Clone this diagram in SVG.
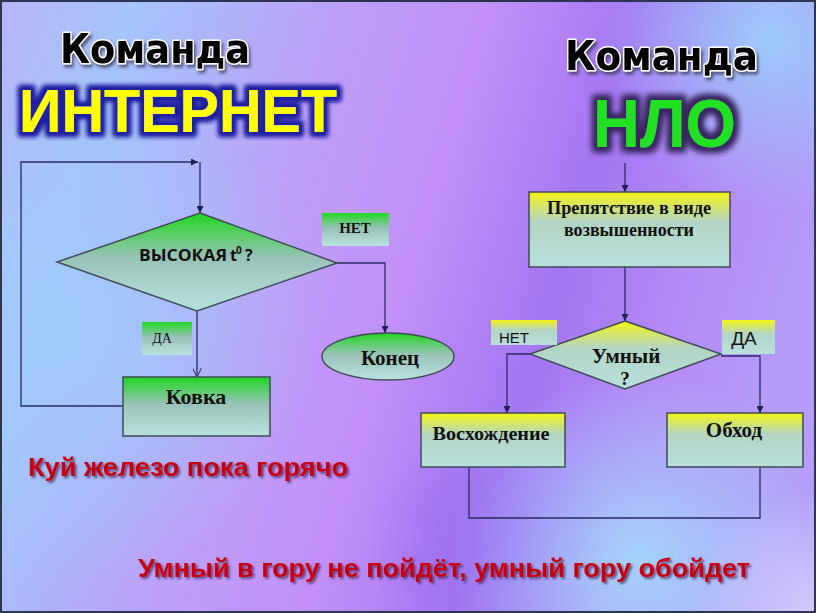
<svg xmlns="http://www.w3.org/2000/svg" width="816" height="613" viewBox="0 0 816 613">
<defs>
  <linearGradient id="bg" x1="0" y1="0" x2="816" y2="250" gradientUnits="userSpaceOnUse">
    <stop offset="0" stop-color="#b8b4f6"/>
    <stop offset="0.15" stop-color="#a4c4fa"/>
    <stop offset="0.38" stop-color="#bca0f8"/>
    <stop offset="0.55" stop-color="#c290f8"/>
    <stop offset="0.72" stop-color="#a476f2"/>
    <stop offset="0.88" stop-color="#b48cf6"/>
    <stop offset="1" stop-color="#b49cf8"/>
  </linearGradient>
  <radialGradient id="blueTR" cx="770" cy="40" r="170" gradientUnits="userSpaceOnUse">
    <stop offset="0" stop-color="#9ccafa" stop-opacity="1"/>
    <stop offset="1" stop-color="#9ccafa" stop-opacity="0"/>
  </radialGradient>
  <radialGradient id="blueBR" cx="640" cy="560" r="190" gradientUnits="userSpaceOnUse">
    <stop offset="0" stop-color="#a4d2fa" stop-opacity="1"/>
    <stop offset="1" stop-color="#a4d2fa" stop-opacity="0"/>
  </radialGradient>
  <radialGradient id="blueL" cx="60" cy="330" r="260" gradientUnits="userSpaceOnUse">
    <stop offset="0" stop-color="#a0cafa" stop-opacity="1"/>
    <stop offset="1" stop-color="#a0cafa" stop-opacity="0"/>
  </radialGradient>
  <radialGradient id="purpleB" cx="490" cy="540" r="120" gradientUnits="userSpaceOnUse">
    <stop offset="0" stop-color="#9a6cf0" stop-opacity="0.9"/>
    <stop offset="1" stop-color="#9a6cf0" stop-opacity="0"/>
  </radialGradient>
  <radialGradient id="lavBR" cx="810" cy="610" r="120" gradientUnits="userSpaceOnUse">
    <stop offset="0" stop-color="#d2c8fa" stop-opacity="1"/>
    <stop offset="1" stop-color="#d2c8fa" stop-opacity="0"/>
  </radialGradient>
  <linearGradient id="gGreen" x1="0" y1="0" x2="0" y2="1">
    <stop offset="0" stop-color="#1ed81e"/>
    <stop offset="0.45" stop-color="#98c2b6"/>
    <stop offset="1" stop-color="#b8e2de"/>
  </linearGradient>
  <linearGradient id="gYellow" x1="0" y1="0" x2="0" y2="1">
    <stop offset="0" stop-color="#f4f414"/>
    <stop offset="0.4" stop-color="#b2d4c4"/>
    <stop offset="1" stop-color="#b8e0dc"/>
  </linearGradient>
  <filter id="glowBlue" x="-20%" y="-30%" width="140%" height="160%">
    <feMorphology in="SourceAlpha" operator="dilate" radius="3.5" result="d"/>
    <feGaussianBlur in="d" stdDeviation="2.5" result="b"/>
    <feFlood flood-color="#2020a0"/>
    <feComposite in2="b" operator="in" result="g"/>
    <feMerge><feMergeNode in="g"/><feMergeNode in="g"/><feMergeNode in="SourceGraphic"/></feMerge>
  </filter>
  <filter id="glowDark" x="-20%" y="-30%" width="140%" height="160%">
    <feMorphology in="SourceAlpha" operator="dilate" radius="3.5" result="d"/>
    <feGaussianBlur in="d" stdDeviation="3" result="b"/>
    <feFlood flood-color="#3a2860"/>
    <feComposite in2="b" operator="in" result="g"/>
    <feMerge><feMergeNode in="g"/><feMergeNode in="g"/><feMergeNode in="SourceGraphic"/></feMerge>
  </filter>
  <filter id="shadowT" x="-10%" y="-30%" width="120%" height="160%">
    <feDropShadow dx="2" dy="3" stdDeviation="1.5" flood-color="#303050" flood-opacity="0.7"/>
  </filter>
  <filter id="shadowR" x="-10%" y="-30%" width="120%" height="160%">
    <feDropShadow dx="2" dy="2" stdDeviation="1.2" flood-color="#402050" flood-opacity="0.7"/>
  </filter>
  <marker id="arr" viewBox="0 0 10 10" refX="10" refY="5" markerWidth="7" markerHeight="7" markerUnits="userSpaceOnUse" orient="auto">
    <path d="M0,0 L10,5 L0,10 Z" fill="#1e1e50"/>
  </marker>
  <marker id="arrOpen" viewBox="0 0 10 10" refX="10" refY="5" markerWidth="9" markerHeight="9" markerUnits="userSpaceOnUse" orient="auto">
    <path d="M0,0 L10,5 L0,10" fill="none" stroke="#3a3a70" stroke-width="1.2"/>
  </marker>
  <style>
    .conn { fill: none; stroke: #2a2a62; stroke-width: 1.3; }
    .box { stroke: #404a58; stroke-width: 1.5; }
    .sb { font-family: "Liberation Serif", "Times New Roman", serif; font-weight: bold; fill: #101010; text-anchor: middle; }
    .sr { font-family: "Liberation Serif", "Times New Roman", serif; fill: #101010; text-anchor: middle; }
    .ss { font-family: "Liberation Sans", Arial, sans-serif; fill: #101010; text-anchor: middle; }
    .os { font-family: "Open Sans", "Noto Sans", sans-serif; font-weight: bold; fill: #101010; }
    .title { font-family: "DejaVu Sans", Verdana, sans-serif; font-weight: bold; fill: #000; stroke: #ffffff; stroke-width: 3; paint-order: stroke; stroke-linejoin: round; }
    .big { font-family: "Liberation Sans", Arial, sans-serif; font-weight: bold; }
    .red { font-family: "Liberation Sans", Arial, sans-serif; font-weight: bold; fill: #c80010; }
  </style>
</defs>

<!-- background -->
<rect x="0" y="0" width="816" height="613" fill="url(#bg)"/>
<rect x="0" y="0" width="816" height="613" fill="url(#blueL)"/>
<rect x="0" y="0" width="816" height="613" fill="url(#blueTR)"/>
<rect x="0" y="0" width="816" height="613" fill="url(#purpleB)"/>
<rect x="0" y="0" width="816" height="613" fill="url(#blueBR)"/>
<rect x="0" y="0" width="816" height="613" fill="url(#lavBR)"/>
<rect x="1" y="1" width="814" height="611" fill="none" stroke="#2c3450" stroke-width="2"/>

<!-- titles -->
<g id="title-left">
  <text class="title" x="60" y="63" font-size="40" textLength="190" lengthAdjust="spacingAndGlyphs" filter="url(#shadowT)">Команда</text>
  <text class="big" x="19" y="132" font-size="61" fill="#ffff00" textLength="318" lengthAdjust="spacingAndGlyphs" filter="url(#glowBlue)">ИНТЕРНЕТ</text>
</g>
<g id="title-right">
  <text class="title" x="565" y="70" font-size="40" textLength="193" lengthAdjust="spacingAndGlyphs" filter="url(#shadowT)">Команда</text>
  <text class="big" x="593" y="147" font-size="69" fill="#22e022" textLength="143" lengthAdjust="spacingAndGlyphs" filter="url(#glowDark)">НЛО</text>
</g>

<!-- connectors -->
<g id="connectors">
  <path class="conn" d="M123,406 H21 V162 H198" marker-end="url(#arr)"/>
  <path class="conn" d="M200,162 V213" marker-end="url(#arr)"/>
  <path class="conn" d="M337,263 H385 V333" marker-end="url(#arr)"/>
  <path class="conn" d="M197,311 V377" marker-end="url(#arrOpen)"/>
  <path class="conn" d="M625,163 V192" marker-end="url(#arr)"/>
  <path class="conn" d="M625,267 V321" marker-end="url(#arr)"/>
  <path class="conn" d="M530,354 H507 V413" marker-end="url(#arr)"/>
  <path class="conn" d="M721,356 H760 V413" marker-end="url(#arr)"/>
  <path class="conn" d="M469,467 V518 H760 V467"/>
</g>

<!-- left flowchart -->
<g id="decision-temp">
  <polygon class="box" points="200,213 337,263 197,311 57,262" fill="url(#gGreen)" stroke="#4a5a5a" stroke-width="1"/>
  <text class="os" x="139" y="261" font-size="16" textLength="88" lengthAdjust="spacingAndGlyphs">ВЫСОКАЯ</text>
  <text class="os" x="230" y="261" font-size="16">t</text>
  <text class="os" x="236" y="254" font-size="10">0</text>
  <text class="os" x="245" y="261" font-size="16">?</text>
</g>
<g id="label-net-left">
  <rect x="322" y="213" width="67" height="33" fill="url(#gGreen)"/>
  <text class="sb" x="355" y="233" font-size="15">НЕТ</text>
</g>
<g id="label-da-left">
  <rect x="142" y="322" width="50" height="33" fill="url(#gGreen)"/>
  <text class="sr" x="162" y="343" font-size="14">ДА</text>
</g>
<g id="end">
  <ellipse class="box" cx="388" cy="356.5" rx="66" ry="23.5" fill="url(#gGreen)" stroke-width="1.2"/>
  <text class="sb" x="390" y="365" font-size="21">Конец</text>
</g>
<g id="kovka">
  <rect class="box" x="123" y="377" width="147" height="59" fill="url(#gGreen)"/>
  <text class="sb" x="196" y="404" font-size="22">Ковка</text>
</g>

<!-- right flowchart -->
<g id="obstacle">
  <rect class="box" x="529" y="192" width="201" height="75" fill="url(#gYellow)"/>
  <text class="sb" x="629" y="214" font-size="18" textLength="164" lengthAdjust="spacingAndGlyphs">Препятствие в виде</text>
  <text class="sb" x="629" y="236" font-size="18" textLength="130" lengthAdjust="spacingAndGlyphs">возвышенности</text>
</g>
<g id="decision-smart">
  <polygon class="box" points="625,321 721,354 625,389 530,354" fill="url(#gYellow)" stroke="#4a5a5a" stroke-width="1"/>
  <text class="sb" x="626" y="363" font-size="21">Умный</text>
  <text class="sb" x="625" y="385" font-size="19">?</text>
</g>
<g id="label-net-right">
  <rect x="491" y="320" width="66" height="25" fill="url(#gYellow)"/>
  <text class="ss" x="514" y="343" font-size="15">НЕТ</text>
</g>
<g id="label-da-right">
  <rect x="722" y="320" width="53" height="34" fill="url(#gYellow)"/>
  <text class="ss" x="744" y="345" font-size="19">ДА</text>
</g>
<g id="climb">
  <rect class="box" x="421" y="413" width="144" height="54" fill="url(#gYellow)"/>
  <text class="sb" x="491" y="440" font-size="19" textLength="117" lengthAdjust="spacingAndGlyphs">Восхождение</text>
</g>
<g id="bypass">
  <rect class="box" x="667" y="413" width="136" height="54" fill="url(#gYellow)"/>
  <text class="sb" x="734" y="437" font-size="21">Обход</text>
</g>

<!-- sayings -->
<g id="saying-left">
  <text class="red" x="28" y="476" font-size="25" textLength="320" lengthAdjust="spacingAndGlyphs" filter="url(#shadowR)">Куй железо пока горячо</text>
</g>
<g id="saying-bottom">
  <text class="red" x="138" y="577" font-size="25" textLength="612" lengthAdjust="spacingAndGlyphs" filter="url(#shadowR)">Умный в гору не пойдёт, умный гору обойдет</text>
</g>
</svg>
